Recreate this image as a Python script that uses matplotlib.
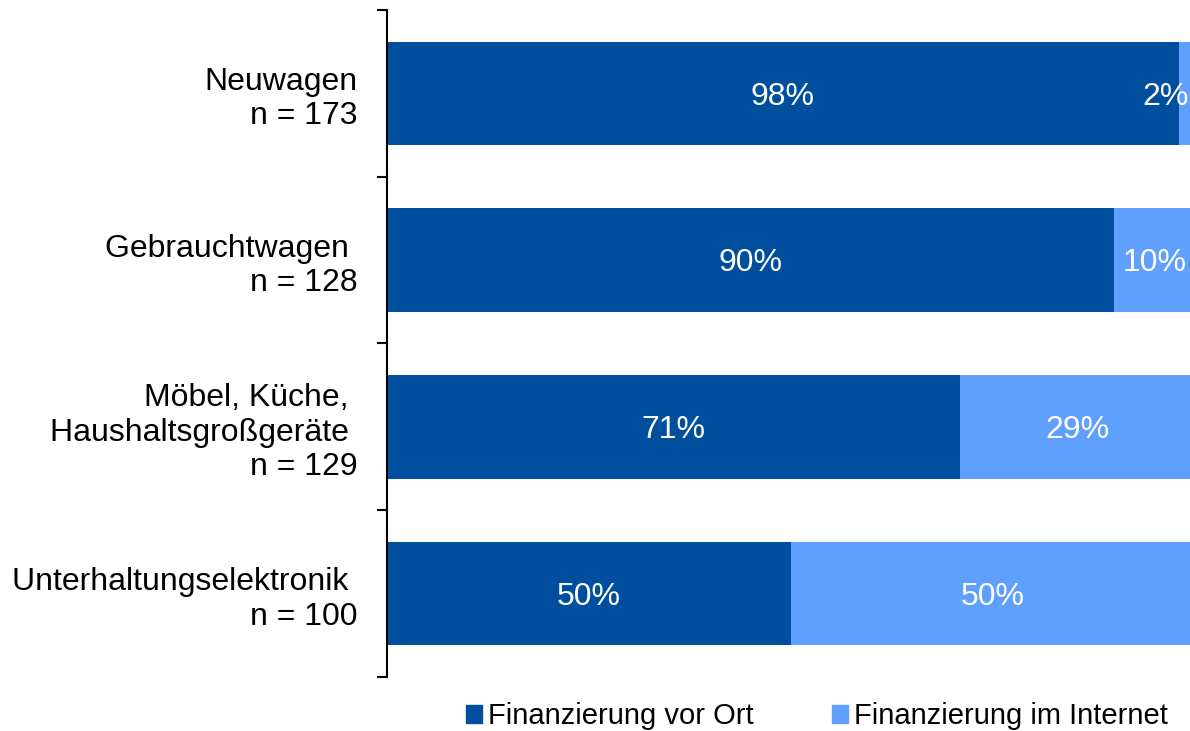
import matplotlib.pyplot as plt
from matplotlib.patches import Patch

plt.rcParams['font.family'] = ['Liberation Sans', 'DejaVu Sans']

categories = ['Neuwagen\nn = 173', 'Gebrauchtwagen \nn = 128',
              'Möbel, Küche, \nHaushaltsgroßgeräte \nn = 129',
              'Unterhaltungselektronik \nn = 100']
vor_ort = [98, 90, 71, 50]
internet = [2, 10, 29, 50]
series_names = ['Finanzierung vor Ort', 'Finanzierung im Internet']

dark = '#004E9E'
light = '#5FA0FF'

fig = plt.figure(figsize=(11.9, 7.31), dpi=100)
ax = fig.add_axes([0.325, 0.0739, 0.679, 0.9124])

y = list(range(len(categories)))
ax.barh(y, vor_ort, height=0.62, color=dark)
ax.barh(y, internet, left=vor_ort, height=0.62, color=light)

for i in y:
    ax.text(vor_ort[i] / 2, i + 0.02, f'{vor_ort[i]}%', ha='center', va='center',
            color='white', fontsize=23)
    if internet[i] < 5:
        ax.text(99.3, i + 0.02, f'{internet[i]}%', ha='right', va='center',
                color='white', fontsize=23)
    else:
        ax.text(vor_ort[i] + internet[i] / 2, i + 0.02, f'{internet[i]}%', ha='center',
                va='center', color='white', fontsize=23)

ax.set_xlim(0, 100)
ax.set_ylim(len(categories) - 0.5, -0.5)
ax.set_xticks([])
ax.set_yticks([i - 0.5 for i in range(len(categories) + 1)])
ax.set_yticklabels([])
ax.set_yticks(y, minor=True)
ax.set_yticklabels(categories, minor=True, fontsize=23, ha='right')
ax.tick_params(axis='y', which='major', direction='out', length=7, width=1.5)
ax.tick_params(axis='y', which='minor', length=0, pad=21)
for s in ['top', 'right', 'bottom']:
    ax.spines[s].set_visible(False)
ax.spines['left'].set_linewidth(1.5)

handles = [Patch(color=dark), Patch(color=light)]
fig.legend(handles, series_names, loc='lower left', bbox_to_anchor=(0.3695, -0.035),
           ncol=2, frameon=False, fontsize=21, handlelength=0.55, handleheight=0.55,
           handletextpad=0.2, columnspacing=2.7)

fig.savefig('out.png', dpi=100)
